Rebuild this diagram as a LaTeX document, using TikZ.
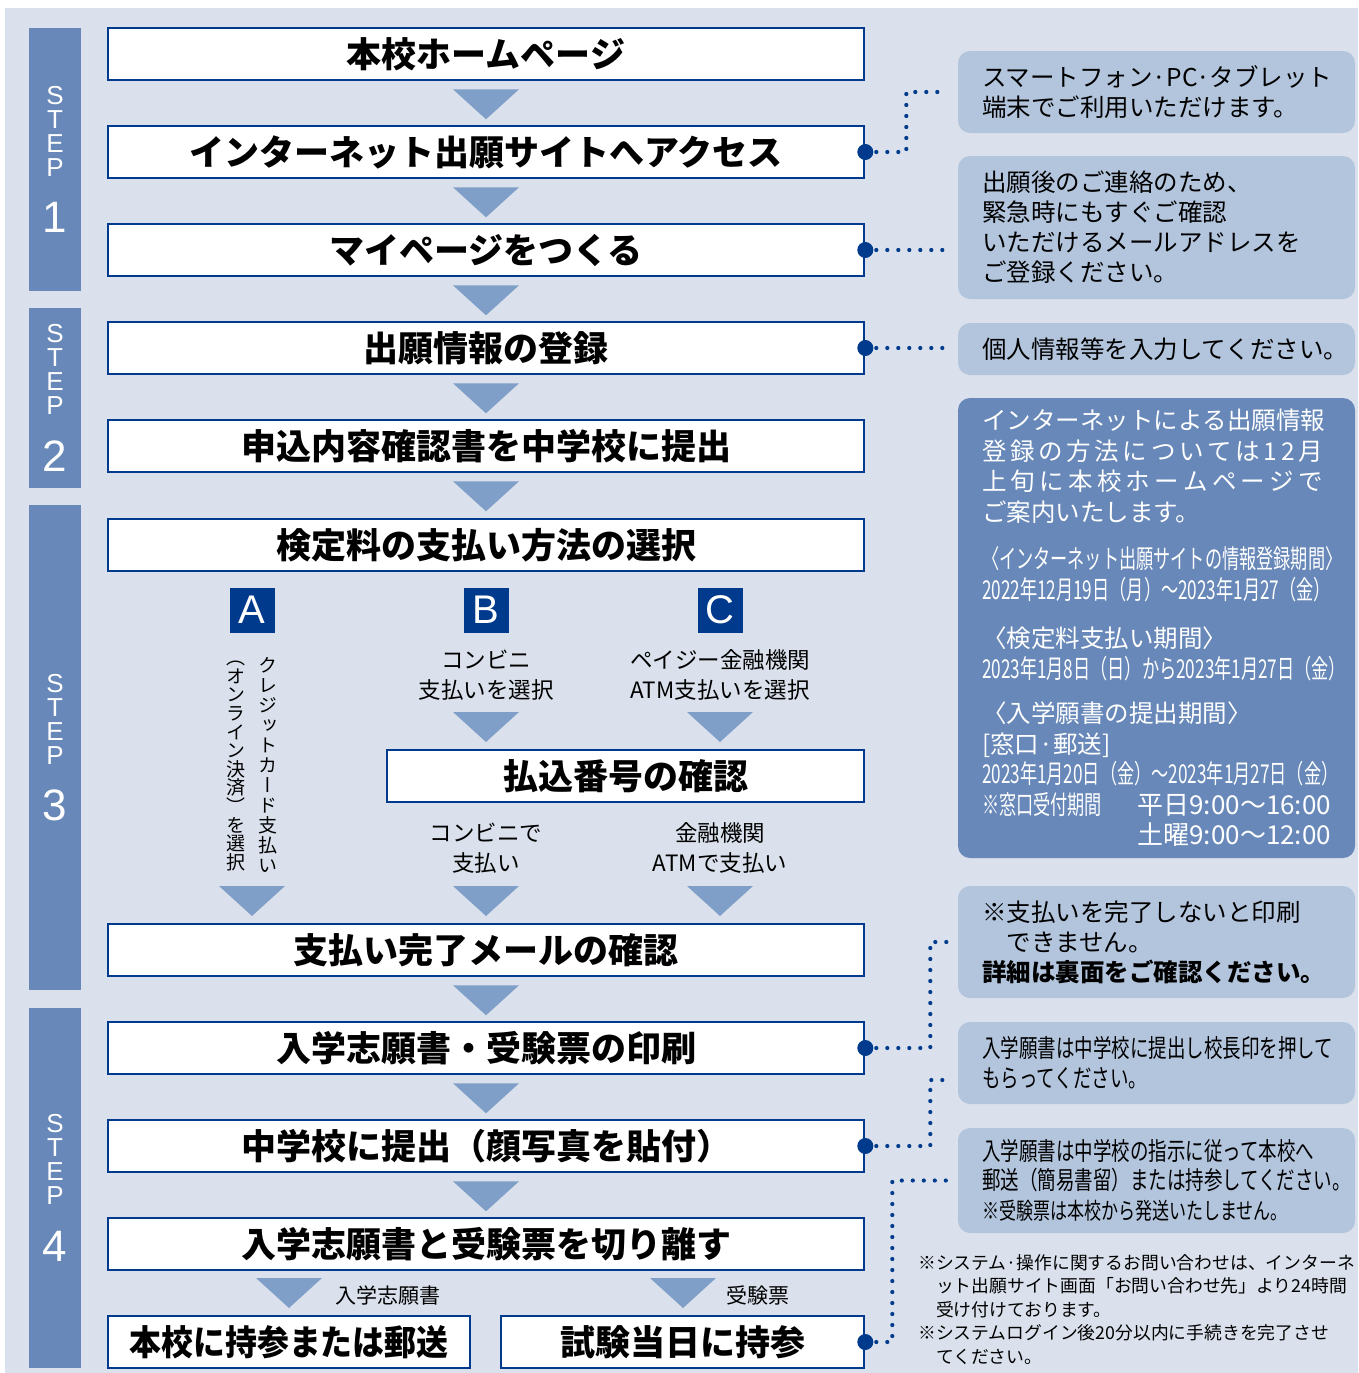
\documentclass[tikz,border=0pt]{standalone}
\usepackage{fontspec}
\setmainfont{Noto Sans CJK JP}
\newfontfamily\jpcond[FakeStretch=0.74]{Noto Sans CJK JP}
\newfontfamily\jpnarrow[FakeStretch=0.66]{Noto Sans CJK JP}
\newfontfamily\jpvert[RawFeature=+vert]{Noto Sans CJK JP}
\newfontfamily\stepfont{Liberation Sans}
\usetikzlibrary{calc,positioning}

\definecolor{bgblue}{HTML}{DAE1EC}
\definecolor{stepblue}{HTML}{6788B8}
\definecolor{navy}{HTML}{003A8C}
\definecolor{triblue}{HTML}{7F9FC8}
\definecolor{noteblue}{HTML}{B3C5DD}

\tikzset{
  stepbar/.style={fill=stepblue, minimum width=52pt, inner sep=0pt, text=white, align=center, font=\stepfont\fontsize{26}{24}\selectfont},
  flowbox/.style={draw=navy, line width=2.6pt, fill=white, minimum width=756pt, minimum height=52pt, inner sep=0pt, font=\fontsize{35}{40}\selectfont\bfseries},
  notebox/.style={fill=noteblue, rounded corners=12pt, minimum width=397pt, text width=349pt, inner xsep=24pt, inner ysep=0pt, align=left, font=\fontsize{24.5}{30}\selectfont},
  darkbox/.style={notebox, fill=stepblue, text=white, font=\fontsize{24.5}{30.5}\selectfont},
  letterbox/.style={fill=navy, text=white, minimum size=45pt, inner sep=0pt, font=\stepfont\fontsize{40}{40}\selectfont},
  paytext/.style={align=center, font=\fontsize{22.5}{30}\selectfont},
  tri/.style={fill=triblue},
  dotline/.style={navy, line width=4.2pt, line cap=round, dash pattern=on 0pt off 11pt},
  startdot/.style={fill=navy}
}

% spread the characters of one line over a given width
\newcommand\spreadline[2]{\makebox[#1][s]{\spreadchars#2\relax}}
\def\spreadchars#1{#1\spreadnext}
\def\spreadnext#1{\ifx#1\relax\else\hfill#1\expandafter\spreadnext\fi}

\newcommand\steptext[1]{S\\T\\E\\P\\[25pt]{\fontsize{44}{40}\selectfont #1}}
\newcommand\downtri[1]{\fill[tri] #1 ++(-33,0) -- ++(66,0) -- ++(-33,30) -- cycle;}

\begin{document}
\begin{tikzpicture}[x=1pt,y=-1pt]
\useasboundingbox (0,0) rectangle (1358,1373);
\fill[bgblue] (5,8) rectangle (1358,1373);

% step bars
\node[stepbar, minimum height=263pt] (s1) at (55,159.5) {\steptext{1}};
\node[stepbar, minimum height=180pt] (s2) at (55,398) {\steptext{2}};
\node[stepbar, minimum height=485pt] (s3) at (55,747.5) {\steptext{3}};
\node[stepbar, minimum height=360pt] (s4) at (55,1188) {\steptext{4}};

% main flow
\node[flowbox] (b1) at (486,54) {本校ホームページ};
\node[flowbox, below=43.4pt of b1] (b2) {インターネット出願サイトへアクセス};
\node[flowbox, below=43.4pt of b2] (b3) {マイページをつくる};
\node[flowbox, below=43.4pt of b3] (b4) {出願情報の登録};
\node[flowbox, below=43.4pt of b4] (b5) {申込内容確認書を中学校に提出};
\node[flowbox, below=44.4pt of b5] (b6) {検定料の支払い方法の選択};
\node[flowbox] (b7) at (486,950) {支払い完了メールの確認};
\node[flowbox, below=43.4pt of b7] (b8) {入学志願書・受験票の印刷};
\node[flowbox, below=43.4pt of b8] (b9) {中学校に提出（顔写真を貼付）};
\node[flowbox, below=43.4pt of b9] (b10) {入学志願書と受験票を切り離す};
\node[flowbox, minimum width=362pt, font=\fontsize{35}{40}\selectfont\bfseries\addfontfeature{FakeStretch=0.91}] (post) at (289,1342) {本校に持参または郵送};
\node[flowbox, minimum width=363pt] (bring) at (682.5,1342) {試験当日に持参};

\foreach \n in {b1,b2,b3,b4,b5,b7,b8,b9}
  {\downtri{($(\n.south)+(0,8)$)}}

% payment choices
\node[letterbox] (la) at (252,610) {A};
\node[letterbox] (lb) at (486,610) {B};
\node[letterbox] (lc) at (720,610) {C};
\node[align=center, inner sep=0pt, font=\jpvert\fontsize{19}{20}\selectfont] (va) at (268,765)
  {ク\\レ\\ジ\\ッ\\ト\\カ\\ー\\ド\\支\\払\\い};
\node[align=center, inner sep=0pt, font=\jpvert\fontsize{19}{18.6}\selectfont] (vb) at (236,766)
  {（\\オ\\ン\\ラ\\イ\\ン\\決\\済\\）\\を\\選\\択};
\node[paytext] (tb) at (486,675) {コンビニ\\支払いを選択};
\node[paytext] (tc) at (720,675) {ペイジー金融機関\\ATM支払いを選択};
\downtri{(486,712)}
\downtri{(720,712)}
\node[flowbox, minimum width=477pt] (pay) at (625.5,776) {払込番号の確認};
\node[paytext] (tb2) at (486,848) {コンビニで\\支払い};
\node[paytext] (tc2) at (720,848) {金融機関\\ATMで支払い};
\downtri{(252,886)}
\downtri{(486,886)}
\downtri{(720,886)}

% split at the end
\downtri{(289,1278)}
\downtri{(683,1278)}
\node[font=\fontsize{21}{21}\selectfont] (ta) at (388,1295) {入学志願書};
\node[font=\fontsize{21}{21}\selectfont] (tt) at (758,1295) {受験票};

% notes on the right
\node[notebox, minimum height=82pt] (r1) at (1156.5,92) {スマートフォン·PC·タブレット\\端末でご利用いただけます。};
\node[notebox, minimum height=143pt] (r2) at (1156.5,227.5) {出願後のご連絡のため、\\緊急時にもすぐご確認\\いただけるメールアドレスを\\ご登録ください。};
\node[notebox, minimum height=52pt] (r3) at (1156.5,349) {個人情報等を入力してください。};
\node[darkbox, minimum height=460pt] (r4) at (1156.5,628) {%
  \spreadline{341pt}{インターネットによる出願情報}\\
  \spreadline{341pt}{登録の方法については12月}\\
  \spreadline{341pt}{上旬に本校ホームページで}\\
  ご案内いたします。\\[17pt]
  {\jpnarrow\fontsize{26}{30}\selectfont 〈インターネット出願サイトの情報登録期間〉}\\
  {\jpnarrow\fontsize{26}{30}\selectfont 2022年12月19日（月）～2023年1月27（金）}\\[18pt]
  〈検定料支払い期間〉\\
  {\jpnarrow\fontsize{26}{30}\selectfont 2023年1月8日（日）から2023年1月27日（金）}\\[14pt]
  〈入学願書の提出期間〉\\
  {[}窓口·郵送{]}\\
  {\jpnarrow\fontsize{26}{30}\selectfont 2023年1月20日（金）～2023年1月27日（金）}\\
  {\jpnarrow\fontsize{26}{30}\selectfont ※窓口受付期間}\hfill{\fontsize{26}{30}\selectfont 平日9:00～16:00}\\
  \hspace*{\fill}{\fontsize{26}{30}\selectfont 土曜9:00～12:00}};
\node[notebox, minimum height=112pt] (r5) at (1156.5,942) {※支払いを完了しないと印刷\\\hspace*{1em}できません。\\{\bfseries 詳細は裏面をご確認ください。}};
\node[notebox, minimum height=82pt] (r6) at (1156.5,1063) {\jpcond\fontsize{25}{30}\selectfont 入学願書は中学校に提出し校長印を押して\\もらってください。};
\node[notebox, minimum height=105pt] (r7) at (1156.5,1180.5) {\jpcond\fontsize{25}{29.5}\selectfont 入学願書は中学校の指示に従って本校へ\\郵送（簡易書留）または持参してください。\\{\fontsize{23}{29.5}\selectfont ※受験票は本校から発送いたしません。}};
\node[anchor=north west, inner sep=0pt, text width=440pt, align=left, font=\fontsize{17.8}{23.5}\selectfont] (faq) at (918,1254)
  {※システム·操作に関するお問い合わせは、インターネ\\
   \hspace*{1em}ット出願サイト画面「お問い合わせ先」より24時間\\
   \hspace*{1em}受け付けております。\\
   ※システムログイン後20分以内に手続きを完了させ\\
   \hspace*{1em}てください。};

% dotted leaders
\draw[dotline, shorten >=10pt] (b2.east) -- ++(41,0) |- (r1.west);
\draw[dotline, shorten >=8pt] (b3.east) -- (b3.east -| r2.west);
\draw[dotline, shorten >=8pt] (b4.east) -- (b4.east -| r3.west);
\draw[dotline, shorten >=11pt] (b8.east) -- ++(65,0) |- (r5.west);
\draw[dotline, shorten >=8pt] (b9.east) -- ++(65,0) |- ($(r6.west)+(0,17)$);
\draw[dotline, shorten >=3pt] (bring.east) -- ++(27,0) |- (r7.west);
\foreach \n in {b2,b3,b4,b8,b9,bring}
  {\fill[startdot] (\n.east) circle[radius=8pt];}
\end{tikzpicture}
\end{document}
